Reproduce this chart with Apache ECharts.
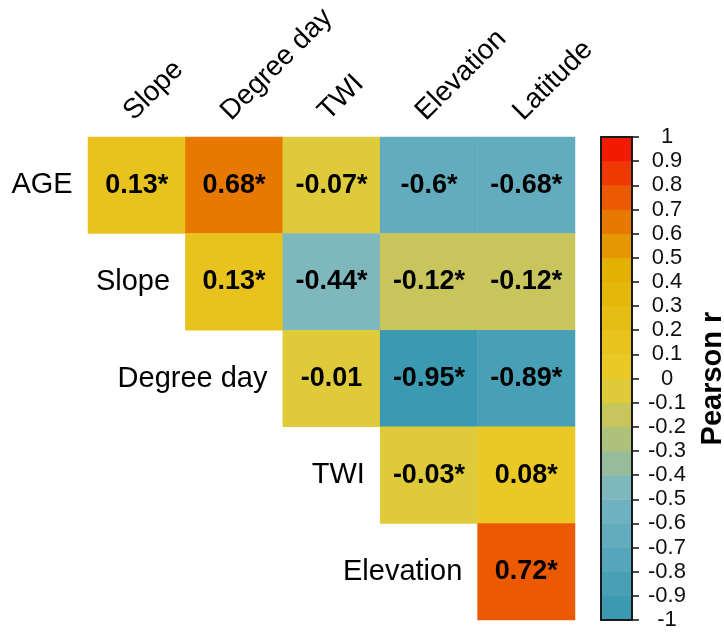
<!DOCTYPE html>
<html>
<head>
<meta charset="utf-8">
<script src="https://cdn.jsdelivr.net/npm/echarts@6/dist/echarts.min.js"></script>
<style>
  html, body { margin: 0; padding: 0; background: #ffffff; }
  #chart { width: 724px; height: 632px; }
</style>
</head>
<body>
<div id="chart"></div>
<script>
// Variables across the top (columns) and down the side (rows)
const colNames = ['Slope', 'Degree day', 'TWI', 'Elevation', 'Latitude'];
const rowNames = ['AGE', 'Slope', 'Degree day', 'TWI', 'Elevation'];

// Pearson r, one array per row; null = lower triangle (left blank)
const rAGE       = [0.13, 0.68, -0.07, -0.6, -0.68];
const rSlope     = [null, 0.13, -0.44, -0.12, -0.12];
const rDegreeDay = [null, null, -0.01, -0.95, -0.89];
const rTWI       = [null, null, null, -0.03, 0.08];
const rElevation = [null, null, null, null, 0.72];

// Significance flags (true = value carries an asterisk)
const sigAGE       = [true, true, true, true, true];
const sigSlope     = [false, true, true, true, true];
const sigDegreeDay = [false, false, false, true, true];
const sigTWI       = [false, false, false, true, true];
const sigElevation = [false, false, false, false, true];

// Colour scale: -1..1 in steps of 0.1, one colour per step (low to high)
const scaleMin = -1;
const scaleMax = 1;
const scaleStep = 0.1;
const palette = [
  '#3B9AB2', '#48A0B6', '#55A6BA', '#62ACBE', '#6EB2C2',
  '#7EB8BD', '#96BC9C', '#AEC17C', '#C7C55B', '#DFCA3A',
  '#EAC926', '#E8C31D', '#E6BD14', '#E4B70B', '#E2B102',
  '#E49700', '#E77800', '#EB5900', '#EE3900', '#F21A00'
];

const FONT = '"Liberation Sans", Arial, Helvetica, sans-serif';

const rValues = [rAGE, rSlope, rDegreeDay, rTWI, rElevation];
const rSig = [sigAGE, sigSlope, sigDegreeDay, sigTWI, sigElevation];

// Heatmap cells: [column, row, r]
const cells = [];
rValues.forEach((row, i) => {
  row.forEach((v, j) => {
    if (v !== null) cells.push({ value: [j, i, v], sig: rSig[i][j] });
  });
});

// Colour bins [lo, hi]
const bins = palette.map((c, k) => [
  Math.round((scaleMin + k * scaleStep) * 10) / 10,
  Math.round((scaleMin + (k + 1) * scaleStep) * 10) / 10
]);
const pieces = bins.map((b, k) => (k === 0
  ? { gte: b[0], lte: b[1], color: palette[k] }
  : { gt: b[0], lte: b[1], color: palette[k] }));

// Row captions sit just left of each row's first cell (on the diagonal)
const rowLabelPoints = rowNames.map((n, i) => ({ name: n, value: [i, i] }));

const chart = echarts.init(document.getElementById('chart'), null, { renderer: 'canvas' });

chart.setOption({
  backgroundColor: '#ffffff',
  animation: false,
  textStyle: { fontFamily: FONT },
  grid: [
    { left: 88, top: 137, width: 487, bottom: 12, show: false,
      containLabel: false, outerBoundsMode: 'none' },
    { left: 601, top: 137, width: 31, bottom: 12, show: true,
      containLabel: false, outerBoundsMode: 'none',
      borderColor: '#1a1a1a', borderWidth: 2, backgroundColor: 'transparent', z: 5 }
  ],
  xAxis: [
    {
      type: 'category', gridIndex: 0, data: colNames, position: 'top',
      axisLine: { show: false }, axisTick: { show: false }, splitLine: { show: false },
      axisLabel: {
        interval: 0, rotate: -45, align: 'left', verticalAlign: 'bottom',
        padding: [0, 0, 2, 4], margin: 7, hideOverlap: false,
        fontSize: 28, color: '#000000', fontFamily: FONT
      }
    },
    { type: 'category', gridIndex: 1, data: [''], show: false }
  ],
  yAxis: [
    { type: 'category', gridIndex: 0, data: rowNames, inverse: true, show: false },
    {
      type: 'value', gridIndex: 1, position: 'right',
      min: scaleMin, max: scaleMax, interval: scaleStep,
      axisLine: { show: false },
      axisTick: { show: true, length: 7, lineStyle: { color: '#111111', width: 1.5 } },
      splitLine: { show: false },
      axisLabel: { fontSize: 22, color: '#111111', align: 'center', margin: 35, fontFamily: FONT },
      name: 'Pearson r', nameLocation: 'middle', nameRotate: 90, nameGap: 66,
      nameTextStyle: { fontSize: 29, fontWeight: 'bold', color: '#000000', fontFamily: FONT }
    }
  ],
  visualMap: {
    type: 'piecewise', show: false, dimension: 2, seriesIndex: 0, pieces: pieces
  },
  series: [
    {
      type: 'heatmap', xAxisIndex: 0, yAxisIndex: 0, data: cells,
      label: {
        show: true, fontSize: 27, fontWeight: 'bold', color: '#000000', fontFamily: FONT,
        formatter: p => p.value[2] + (p.data.sig ? '*' : '')
      },
      emphasis: { disabled: true }
    },
    {
      type: 'scatter', xAxisIndex: 0, yAxisIndex: 0, data: rowLabelPoints,
      symbolSize: 0.001, silent: true,
      itemStyle: { opacity: 1 },
      label: {
        show: true, position: 'left', distance: 64, formatter: '{b}', opacity: 1,
        fontSize: 29, color: '#000000', fontFamily: FONT
      }
    },
    {
      type: 'custom', xAxisIndex: 1, yAxisIndex: 1, silent: true, z: 1,
      data: bins.map((b, k) => [0, b[0], b[1], k]),
      encode: { x: 0, y: [1, 2] },
      renderItem: (params, api) => {
        const hi = api.coord([0, api.value(2)]);
        const lo = api.coord([0, api.value(1)]);
        const w = api.size([1, 0])[0];
        return {
          type: 'rect',
          shape: { x: hi[0] - w / 2, y: hi[1], width: w, height: lo[1] - hi[1] + 0.5 },
          style: { fill: palette[api.value(3)] }
        };
      }
    }
  ]
});
</script>
</body>
</html>
